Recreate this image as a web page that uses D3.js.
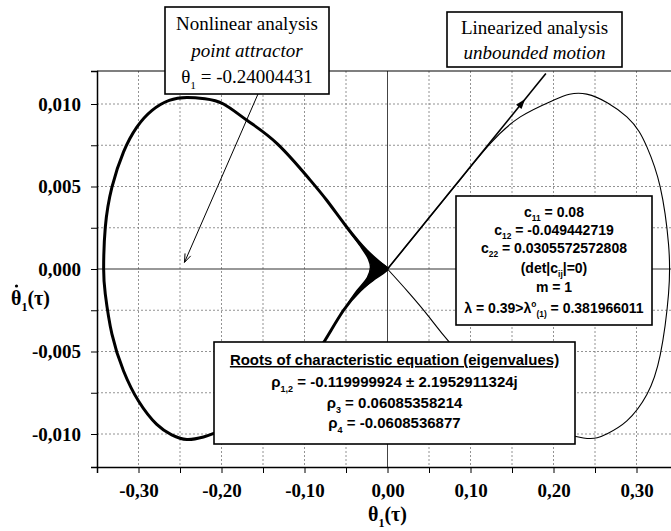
<!DOCTYPE html>
<html>
<head>
<meta charset="utf-8">
<script src="https://cdn.jsdelivr.net/npm/d3@7"></script>
<style>
  body { margin: 0; background: #fff; }
  svg { display: block; }
  .serif { font-family: "Liberation Serif", "Times New Roman", serif; }
  .sans { font-family: "Liberation Sans", Arial, sans-serif; }
</style>
</head>
<body>
<div id="chart"></div>
<script>
// phase portrait, theta_1 vs d(theta_1)/dtau
const xTicks = [-0.30, -0.20, -0.10, 0.00, 0.10, 0.20, 0.30];
const yTicks = [-0.010, -0.005, 0.000, 0.005, 0.010];

// nonlinear trajectory (thick loop on the left)
const nonlinTheta = [0, -0.025, -0.049, -0.073, -0.095, -0.133, -0.169, -0.1976, -0.22, -0.2417, -0.263, -0.284, -0.302, -0.318, -0.332, -0.340, -0.342, -0.340, -0.332, -0.318, -0.300, -0.278, -0.26, -0.2417, -0.2217, -0.2075, -0.17, -0.13, -0.10, -0.077, -0.053, -0.033, -0.015, 0];
const nonlinOmega = [0, 0.0011, 0.00253, 0.00415, 0.0055, 0.0076, 0.0090, 0.0100, 0.01032, 0.0104, 0.01022, 0.0096, 0.0086, 0.0071, 0.00496, 0.00253, 0.0000, -0.00152, -0.00395, -0.00618, -0.0080, -0.00942, -0.01005, -0.01033, -0.01018, -0.00993, -0.0091, -0.0077, -0.0061, -0.00446, -0.0025, -0.0013, -0.0005, 0];

// dense region near the saddle
const cuspTheta = [-0.049, -0.025, -0.012, 0, -0.015, -0.033, -0.049, -0.0369, -0.0241, -0.0205, -0.0229, -0.0329];
const cuspOmega = [0.00253, 0.0011, 0.0005, 0, -0.0006, -0.0013, -0.0022, -0.00132, -0.0005, 0.0001, 0.0006, 0.0014];

// linearized trajectory (thin loop on the right)
const linTheta = [0, 0.04, 0.0836, 0.1237, 0.16, 0.20, 0.24, 0.2884, 0.3125, 0.3286, 0.3386, 0.3386, 0.3286, 0.3125, 0.2884, 0.264, 0.236, 0.18, 0.13, 0.0755, 0.05, 0.025, 0];
const linOmega = [0, 0.00248, 0.00517, 0.0076, 0.00922, 0.01023, 0.0106, 0.00922, 0.0074, 0.00496, 0.0015, -0.0015, -0.0052, -0.0076, -0.0092, -0.0100, -0.01024, -0.0093, -0.0074, -0.00449, -0.0029, -0.0014, 0];

// unbounded direction (straight line with arrow)
const rayTheta = [0, 0.1908];
const rayOmega = [0, 0.01185];
const rayArrowAt = 0.162;

const attractor = [-0.2446, 0.0004];

const W = 671, H = 531;
const margin = { top: 71, right: -7, bottom: 64, left: 97 };
const width = W - margin.left - margin.right;
const height = H - margin.top - margin.bottom;

const svg = d3.select("#chart").append("svg")
  .attr("width", W).attr("height", H);

const x = d3.scaleLinear().domain([-0.35, 0.35]).range([margin.left, margin.left + width]);
const y = d3.scaleLinear().domain([-0.012, 0.012]).range([margin.top + height, margin.top]);

const plot = svg.append("g");

// grid every 0.05 / 0.0025
const xGrid = d3.range(-7, 8).map(i => i * 0.05);
const yGridVals = d3.range(-4, 5).map(i => i * 0.0025);

plot.selectAll(".gx").data(xGrid.filter(v => v > -0.349 && Math.abs(v) > 1e-9))
  .join("line").attr("class", "gx")
  .attr("x1", d => x(d)).attr("x2", d => x(d))
  .attr("y1", y(0.012)).attr("y2", y(-0.012))
  .attr("stroke", "#777").attr("stroke-width", 0.8).attr("stroke-dasharray", "2,2");

plot.selectAll(".gy").data(yGridVals.filter(v => Math.abs(v) > 1e-9))
  .join("line").attr("class", "gy")
  .attr("x1", x(-0.35)).attr("x2", x(0.35))
  .attr("y1", d => y(d)).attr("y2", d => y(d))
  .attr("stroke", "#777").attr("stroke-width", 0.8).attr("stroke-dasharray", "2,2");

// zero lines
plot.append("line")
  .attr("x1", x(-0.35)).attr("x2", x(0.35)).attr("y1", y(0)).attr("y2", y(0))
  .attr("stroke", "#333").attr("stroke-width", 1.2);
plot.append("line")
  .attr("x1", x(0)).attr("x2", x(0)).attr("y1", y(0.012)).attr("y2", y(-0.012))
  .attr("stroke", "#444").attr("stroke-width", 1);

// frame top
plot.append("line").attr("x1", x(-0.35)).attr("x2", x(0.35)).attr("y1", y(0.012)).attr("y2", y(0.012))
  .attr("stroke", "#000").attr("stroke-width", 1.2);

const fmt = (d, p) => d3.format(p)(d).replace("\u2212", "-").replace(".", ",");

// axes
const xAxis = d3.axisBottom(x).tickValues(xGrid.filter(v => v > -0.349)).tickSize(6)
  .tickFormat(d => xTicks.some(t => Math.abs(t - d) < 1e-9) ? fmt(d, ".2f") : "");
const gx = svg.append("g").attr("transform", `translate(0,${y(-0.012)})`).call(xAxis);
gx.select(".domain").attr("stroke", "#000").attr("stroke-width", 1.5);
gx.selectAll(".tick line").attr("stroke", "#000");
gx.selectAll("text").attr("class", "serif").attr("font-size", 19).attr("font-weight", "bold")
  .attr("fill", "#000").attr("dy", "1.1em");

const yAxis = d3.axisLeft(y).tickValues(yGridVals).tickSize(6)
  .tickFormat(d => yTicks.some(t => Math.abs(t - d) < 1e-9) ? fmt(d, ".3f") : "");
const gy = svg.append("g").attr("transform", `translate(${x(-0.35)},0)`).call(yAxis);
gy.select(".domain").attr("stroke", "#000").attr("stroke-width", 1.5);
gy.selectAll(".tick line").attr("stroke", "#000");
gy.selectAll("text").attr("class", "serif").attr("font-size", 19).attr("font-weight", "bold")
  .attr("fill", "#000").attr("x", -16);

// rich text helper: parts = [{t, sub, sup}]
function rich(sel, parts, fs) {
  let cur = 0;
  parts.forEach(p => {
    const target = p.sub ? 0.3 * fs : p.sup ? -0.4 * fs : 0;
    sel.append("tspan")
      .attr("dy", target - cur)
      .attr("font-size", (p.sub || p.sup) ? fs * 0.6 : fs)
      .text(p.t);
    cur = target;
  });
  return sel;
}

// axis titles
rich(svg.append("text").attr("class", "serif").attr("font-weight", "bold").attr("font-size", 20)
  .attr("text-anchor", "middle").attr("x", x(0)).attr("y", 521),
  [{ t: "θ" }, { t: "1", sub: true }, { t: "(τ)" }], 20);
rich(svg.append("text").attr("class", "serif").attr("font-weight", "bold").attr("font-size", 20)
  .attr("x", 11).attr("y", 305),
  [{ t: "θ" }, { t: "1", sub: true }, { t: "(τ)" }], 20);
svg.append("circle").attr("cx", 16.5).attr("cy", 286).attr("r", 1.6).attr("fill", "#000");

// curves
const line = d3.line().x(d => x(d[0])).y(d => y(d[1])).curve(d3.curveNatural);
const zip = (a, b) => a.map((v, i) => [v, b[i]]);

plot.append("path").datum(zip(linTheta, linOmega))
  .attr("d", line).attr("fill", "none").attr("stroke", "#000").attr("stroke-width", 1.1);

plot.append("path").datum(zip(rayTheta, rayOmega))
  .attr("d", d3.line().x(d => x(d[0])).y(d => y(d[1])))
  .attr("fill", "none").attr("stroke", "#000").attr("stroke-width", 1.6);

// arrow head on the ray
const ang = Math.atan2(y(rayOmega[1]) - y(0), x(rayTheta[1]) - x(0)) * 180 / Math.PI;
plot.append("path")
  .attr("d", "M5,0 L-5,-3.5 L-5,3.5 Z")
  .attr("transform", `translate(${x(rayArrowAt)},${y(rayArrowAt * rayOmega[1] / rayTheta[1])}) rotate(${ang})`)
  .attr("fill", "#000");

plot.append("path").datum(zip(nonlinTheta, nonlinOmega))
  .attr("d", line).attr("fill", "none").attr("stroke", "#000").attr("stroke-width", 3)
  .attr("stroke-linejoin", "round");

plot.append("path").datum(zip(cuspTheta, cuspOmega))
  .attr("d", d3.line().x(d => x(d[0])).y(d => y(d[1])).curve(d3.curveCatmullRomClosed))
  .attr("fill", "#000").attr("stroke", "#000").attr("stroke-width", 1.5);

// annotation boxes
function box(x0, y0, x1, y1) {
  svg.append("rect").attr("x", x0).attr("y", y0).attr("width", x1 - x0).attr("height", y1 - y0)
    .attr("fill", "#fff").attr("stroke", "#000").attr("stroke-width", 1.6);
}

// leader arrow to the point attractor
const ax0 = 258, ay0 = 94, ax1 = x(attractor[0]), ay1 = y(attractor[1]);
svg.append("line").attr("x1", ax0).attr("y1", ay0).attr("x2", ax1).attr("y2", ay1)
  .attr("stroke", "#000").attr("stroke-width", 1);
const la = Math.atan2(ay1 - ay0, ax1 - ax0);
svg.append("path")
  .attr("d", `M${ax1 - 9 * Math.cos(la - 0.35)},${ay1 - 9 * Math.sin(la - 0.35)} L${ax1},${ay1} L${ax1 - 9 * Math.cos(la + 0.35)},${ay1 - 9 * Math.sin(la + 0.35)}`)
  .attr("fill", "none").attr("stroke", "#000").attr("stroke-width", 1);

box(165, 7, 329, 94);
const nb = svg.append("g").attr("class", "serif").attr("text-anchor", "middle").attr("font-size", 19);
nb.append("text").attr("x", 247).attr("y", 30).text("Nonlinear analysis");
nb.append("text").attr("x", 247).attr("y", 57).attr("font-style", "italic").text("point attractor");
rich(nb.append("text").attr("x", 247).attr("y", 83),
  [{ t: "θ" }, { t: "1", sub: true }, { t: " = -0.24004431" }], 19);

box(447, 12, 622, 67);
const lb = svg.append("g").attr("class", "serif").attr("text-anchor", "middle").attr("font-size", 19);
lb.append("text").attr("x", 534.5).attr("y", 34).text("Linearized analysis");
lb.append("text").attr("x", 534.5).attr("y", 59).attr("font-style", "italic").text("unbounded motion");

box(456, 196, 652, 325);
const cb = svg.append("g").attr("class", "sans").attr("text-anchor", "middle").attr("font-size", 14).attr("font-weight", "bold");
const cx = 554;
rich(cb.append("text").attr("x", cx).attr("y", 217), [{ t: "c" }, { t: "11", sub: true }, { t: " = 0.08" }], 14);
rich(cb.append("text").attr("x", cx).attr("y", 235), [{ t: "c" }, { t: "12", sub: true }, { t: " = -0.049442719" }], 14);
rich(cb.append("text").attr("x", cx).attr("y", 253), [{ t: "c" }, { t: "22", sub: true }, { t: " = 0.0305572572808" }], 14);
rich(cb.append("text").attr("x", cx).attr("y", 273), [{ t: "(det|c" }, { t: "ij", sub: true }, { t: "|=0)" }], 14);
cb.append("text").attr("x", cx).attr("y", 292).text("m = 1");
rich(cb.append("text").attr("x", cx).attr("y", 313),
  [{ t: "λ = 0.39>λ" }, { t: "o", sup: true }, { t: "(1)", sub: true }, { t: " = 0.381966011" }], 14);

box(214, 342, 575, 444);
const rb = svg.append("g").attr("class", "sans").attr("text-anchor", "middle").attr("font-weight", "bold");
const rx = 394.5;
rb.append("text").attr("x", rx).attr("y", 365).attr("font-size", 15)
  .attr("text-decoration", "underline").text("Roots of characteristic equation (eigenvalues)");
rich(rb.append("text").attr("x", rx).attr("y", 387),
  [{ t: "ρ" }, { t: "1,2", sub: true }, { t: " = -0.119999924 ± 2.1952911324j" }], 15);
rich(rb.append("text").attr("x", rx).attr("y", 408),
  [{ t: "ρ" }, { t: "3", sub: true }, { t: " = 0.06085358214" }], 15);
rich(rb.append("text").attr("x", rx).attr("y", 428),
  [{ t: "ρ" }, { t: "4", sub: true }, { t: " = -0.0608536877" }], 15);
</script>
</body>
</html>
